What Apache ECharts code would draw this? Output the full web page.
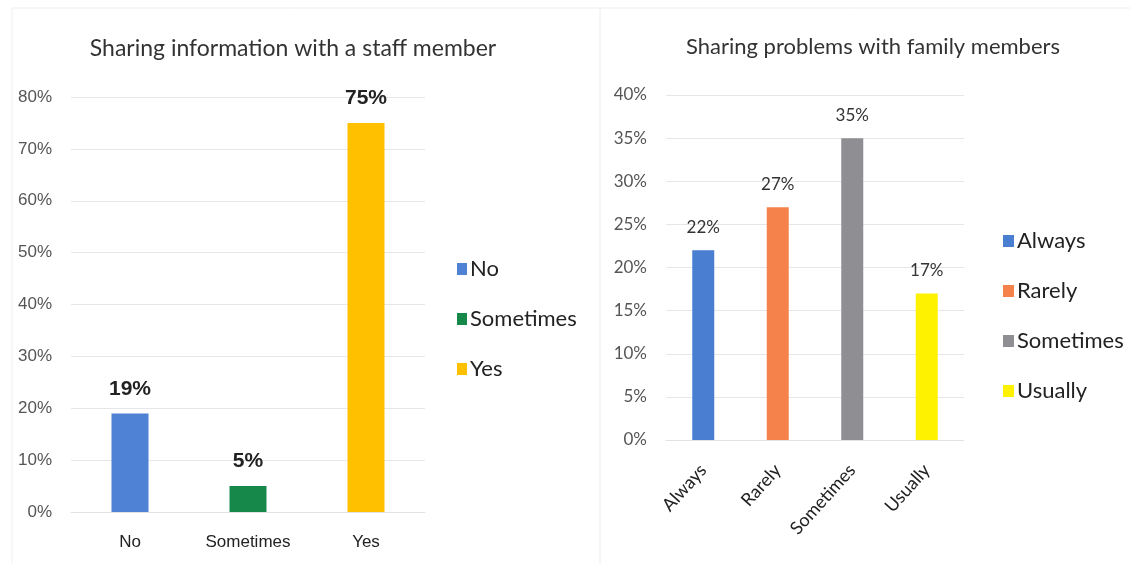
<!DOCTYPE html>
<html>
<head>
<meta charset="utf-8">
<script src="https://cdn.jsdelivr.net/npm/echarts@6/dist/echarts.min.js"></script>
<style>
  html, body { margin: 0; padding: 0; background: #fff; }
  #chart { width: 1142px; height: 564px; }
</style>
</head>
<body>
<div id="chart"></div>
<script>
// Left panel: sharing information with a staff member
const staffCategories = ['No', 'Sometimes', 'Yes'];
const staffValues = [19, 5, 75];
const staffColors = ['#4F82D4', '#16894A', '#FFC000'];
const staffTicks = [0, 10, 20, 30, 40, 50, 60, 70, 80];

// Right panel: sharing problems with family members
const familyCategories = ['Always', 'Rarely', 'Sometimes', 'Usually'];
const familyValues = [22, 27, 35, 17];
const familyColors = ['#4A7ED0', '#F5824A', '#8F8E93', '#FFF200'];
const familyTicks = [0, 5, 10, 15, 20, 25, 30, 35, 40];

const plain = '"Liberation Sans", Arial, sans-serif';
const humanist = 'Lato, "Open Sans", sans-serif';

// Series names carry a panel prefix so the two legends stay independent
// ("Sometimes" exists in both panels); the legend shows the bare category.
const key = (panel, name) => panel + '|' + name;
const bare = n => n.split('|')[1];

// One series per category, all stacked so each bar sits centred on its own slot
function panelSeries(panel, cats, vals, colors, axisIdx, barWidth, labelStyle) {
  return cats.map((name, i) => ({
    name: key(panel, name),
    type: 'bar',
    xAxisIndex: axisIdx,
    yAxisIndex: axisIdx,
    stack: panel,
    barWidth: barWidth,
    itemStyle: { color: colors[i] },
    label: Object.assign({
      show: true,
      position: 'top',
      formatter: p => p.value + '%'
    }, labelStyle),
    data: cats.map((c, j) => (j === i ? vals[i] : '-'))
  }));
}

const chart = echarts.init(document.getElementById('chart'));

const gridLine = { show: true, lineStyle: { color: '#e6e6e6', width: 1 } };

chart.setOption({
  backgroundColor: '#ffffff',
  animation: false,
  title: [
    {
      text: 'Sharing information with a staff member',
      left: 288, top: 32, textAlign: 'center',
      textStyle: { fontFamily: humanist, fontSize: 23, fontWeight: 'normal', color: '#333' }
    },
    {
      text: 'Sharing problems with family members',
      left: 868, top: 31, textAlign: 'center',
      textStyle: { fontFamily: humanist, fontSize: 22, fontWeight: 'normal', color: '#333' }
    }
  ],
  legend: [
    {
      data: staffCategories.map(n => key('staff', n)),
      formatter: bare,
      orient: 'vertical',
      left: 452, top: 253,
      icon: 'rect', itemWidth: 10, itemHeight: 12, itemGap: 28,
      textStyle: { fontFamily: humanist, fontSize: 22, color: '#222', padding: [0, 0, 0, -2] }
    },
    {
      data: familyCategories.map(n => key('family', n)),
      formatter: bare,
      orient: 'vertical',
      left: 998, top: 225,
      icon: 'rect', itemWidth: 11, itemHeight: 12, itemGap: 28,
      textStyle: { fontFamily: humanist, fontSize: 22, color: '#222', padding: [0, 0, 0, -2] }
    }
  ],
  grid: [
    { left: 71, top: 97, width: 354, height: 415 },
    { left: 666, top: 95, width: 298, height: 345 }
  ],
  xAxis: [
    {
      type: 'category', gridIndex: 0, data: staffCategories,
      axisLine: { lineStyle: { color: '#e2e2e2' } },
      axisTick: { show: false },
      axisLabel: { fontFamily: plain, fontSize: 17, color: '#222', margin: 22 }
    },
    {
      type: 'category', gridIndex: 1, data: familyCategories,
      axisLine: { lineStyle: { color: '#e2e2e2' } },
      axisTick: { show: false },
      axisLabel: { fontFamily: humanist, fontSize: 18, color: '#222', rotate: 48, margin: 27 }
    }
  ],
  yAxis: [
    {
      type: 'value', gridIndex: 0,
      min: staffTicks[0], max: staffTicks[staffTicks.length - 1], interval: staffTicks[1] - staffTicks[0],
      axisLine: { show: false }, axisTick: { show: false },
      splitLine: gridLine,
      axisLabel: { fontFamily: plain, fontSize: 17, color: '#555', margin: 19, formatter: '{value}%' }
    },
    {
      type: 'value', gridIndex: 1,
      min: familyTicks[0], max: familyTicks[familyTicks.length - 1], interval: familyTicks[1] - familyTicks[0],
      axisLine: { show: false }, axisTick: { show: false },
      splitLine: gridLine,
      axisLabel: { fontFamily: humanist, fontSize: 17, color: '#555', margin: 19, formatter: '{value}%' }
    }
  ],
  series: [].concat(
    panelSeries('staff', staffCategories, staffValues, staffColors, 0, 37,
      { fontFamily: plain, fontSize: 21, fontWeight: 'bold', color: '#222', distance: 14 }),
    panelSeries('family', familyCategories, familyValues, familyColors, 1, 22,
      { fontFamily: humanist, fontSize: 17, color: '#333', distance: 14 })
  ),
  graphic: [
    // faint panel frames
    { type: 'line', shape: { x1: 12, y1: 8, x2: 1130, y2: 8 }, style: { stroke: '#eeeeee', lineWidth: 1 } },
    { type: 'line', shape: { x1: 12, y1: 8, x2: 12, y2: 564 }, style: { stroke: '#f0f0f0', lineWidth: 1 } },
    { type: 'line', shape: { x1: 600, y1: 8, x2: 600, y2: 564 }, style: { stroke: '#ececec', lineWidth: 1 } }
  ]
});
</script>
</body>
</html>
